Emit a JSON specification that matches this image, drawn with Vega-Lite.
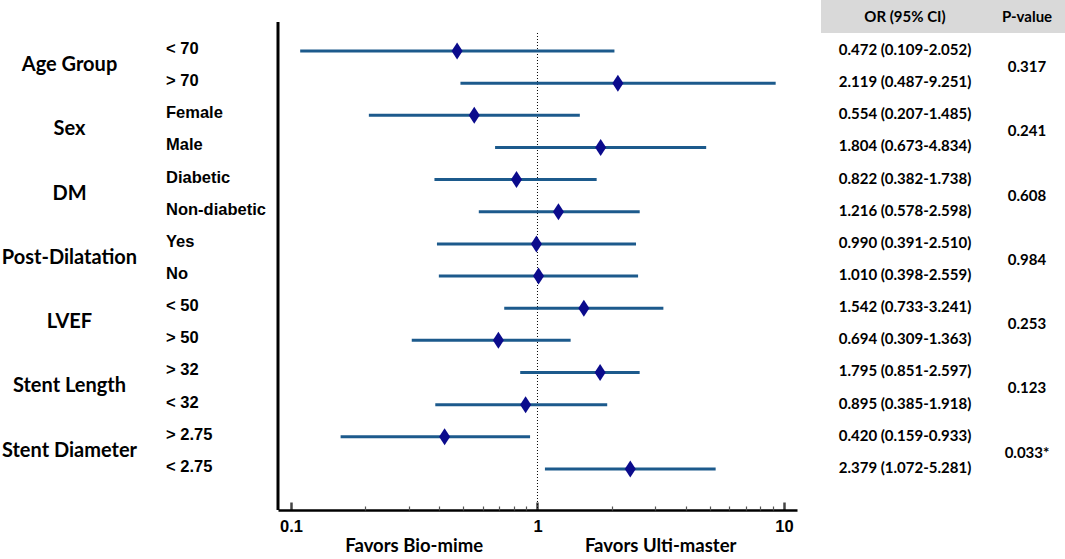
{
  "$schema": "https://vega.github.io/schema/vega-lite/v6.json",
  "padding": 0,
  "background": "white",
  "spacing": 0,
  "bounds": "flush",
  "config": {"view": {"stroke": null}, "text": {"color": "black"}},
  "datasets": {
    "rows": [
      {"row": 0, "group": "Age Group", "sub": "< 70", "or": 0.472, "lo": 0.109, "hi": 2.052, "ci": "0.472 (0.109-2.052)", "p": "0.317", "first": true},
      {"row": 1, "group": "Age Group", "sub": "> 70", "or": 2.119, "lo": 0.487, "hi": 9.251, "ci": "2.119 (0.487-9.251)", "p": "0.317", "first": false},
      {"row": 2, "group": "Sex", "sub": "Female", "or": 0.554, "lo": 0.207, "hi": 1.485, "ci": "0.554 (0.207-1.485)", "p": "0.241", "first": true},
      {"row": 3, "group": "Sex", "sub": "Male", "or": 1.804, "lo": 0.673, "hi": 4.834, "ci": "1.804 (0.673-4.834)", "p": "0.241", "first": false},
      {"row": 4, "group": "DM", "sub": "Diabetic", "or": 0.822, "lo": 0.382, "hi": 1.738, "ci": "0.822 (0.382-1.738)", "p": "0.608", "first": true},
      {"row": 5, "group": "DM", "sub": "Non-diabetic", "or": 1.216, "lo": 0.578, "hi": 2.598, "ci": "1.216 (0.578-2.598)", "p": "0.608", "first": false},
      {"row": 6, "group": "Post-Dilatation", "sub": "Yes", "or": 0.990, "lo": 0.391, "hi": 2.510, "ci": "0.990 (0.391-2.510)", "p": "0.984", "first": true},
      {"row": 7, "group": "Post-Dilatation", "sub": "No", "or": 1.010, "lo": 0.398, "hi": 2.559, "ci": "1.010 (0.398-2.559)", "p": "0.984", "first": false},
      {"row": 8, "group": "LVEF", "sub": "< 50", "or": 1.542, "lo": 0.733, "hi": 3.241, "ci": "1.542 (0.733-3.241)", "p": "0.253", "first": true},
      {"row": 9, "group": "LVEF", "sub": "> 50", "or": 0.694, "lo": 0.309, "hi": 1.363, "ci": "0.694 (0.309-1.363)", "p": "0.253", "first": false},
      {"row": 10, "group": "Stent Length", "sub": "> 32", "or": 1.795, "lo": 0.851, "hi": 2.597, "ci": "1.795 (0.851-2.597)", "p": "0.123", "first": true},
      {"row": 11, "group": "Stent Length", "sub": "< 32", "or": 0.895, "lo": 0.385, "hi": 1.918, "ci": "0.895 (0.385-1.918)", "p": "0.123", "first": false},
      {"row": 12, "group": "Stent Diameter", "sub": "> 2.75", "or": 0.420, "lo": 0.159, "hi": 0.933, "ci": "0.420 (0.159-0.933)", "p": "0.033*", "first": true},
      {"row": 13, "group": "Stent Diameter", "sub": "< 2.75", "or": 2.379, "lo": 1.072, "hi": 5.281, "ci": "2.379 (1.072-5.281)", "p": "0.033*", "first": false}
    ],
    "header": [{"col": "OR (95% CI)"}, {"col": "P-value"}]
  },
  "hconcat": [
    {
      "width": 278,
      "height": 510,
      "data": {"name": "rows"},
      "layer": [
        {
          "transform": [{"filter": "datum.first"}],
          "mark": {"type": "text", "font": "Lato", "fontWeight": "bold", "fontSize": 20, "dy": 14, "baseline": "middle", "align": "center"},
          "encoding": {
            "x": {"datum": "Group", "type": "nominal", "scale": {"type": "band", "domain": ["Group", "Subgroup"], "paddingInner": 0, "paddingOuter": 0}, "axis": null},
            "y": {"field": "row", "type": "quantitative", "scale": {"domain": [-1.586, 14.277], "reverse": true, "nice": false, "zero": false}, "axis": null},
            "text": {"field": "group"}
          }
        },
        {
          "mark": {"type": "text", "font": "Liberation Sans", "fontWeight": "bold", "fontSize": 16.5, "dx": 27, "dy": -2, "align": "left", "baseline": "middle"},
          "encoding": {
            "x": {"datum": "Subgroup", "type": "nominal", "bandPosition": 0, "axis": null},
            "y": {"field": "row", "type": "quantitative", "axis": null},
            "text": {"field": "sub"}
          }
        }
      ]
    },
    {
      "width": 519,
      "height": 510,
      "data": {"name": "rows"},
      "resolve": {"axis": {"x": "independent"}},
      "layer": [
        {
          "data": {"values": [{}]},
          "mark": {"type": "rule", "color": "black", "strokeWidth": 1, "strokeDash": [1, 2]},
          "encoding": {
            "x": {"datum": 1, "type": "quantitative", "scale": {"type": "log", "domain": [0.0886, 11.29], "nice": false},
              "axis": {"orient": "bottom", "values": [0.1, 1, 10], "format": "~g", "title": null, "grid": false, "tickSize": -8, "tickWidth": 2.5, "tickColor": "#444444", "domain": true, "domainColor": "black", "domainWidth": 2.5, "labelFont": "Liberation Sans", "labelFontWeight": "bold", "labelFontSize": 16.5, "labelColor": "black", "labelPadding": 16, "labelFlush": false}},
            "y": {"datum": -0.56, "type": "quantitative", "scale": {"domain": [-1.586, 14.277], "reverse": true, "nice": false, "zero": false}, "axis": null},
            "y2": {"datum": 14.277}
          }
        },
        {
          "mark": {"type": "rule", "color": "#1c5a8c", "strokeWidth": 3},
          "encoding": {
            "x": {"field": "lo", "type": "quantitative", "axis": null},
            "x2": {"field": "hi"},
            "y": {"field": "row", "type": "quantitative", "axis": null}
          }
        },
        {
          "mark": {"type": "point", "shape": "M0,-1L0.65,0L0,1L-0.65,0Z", "filled": true, "size": 289, "color": "#0b0b8c", "opacity": 1},
          "encoding": {
            "x": {"field": "or", "type": "quantitative",
              "axis": {"orient": "bottom", "values": [0.2, 0.3, 0.4, 0.5, 0.6, 0.7, 0.8, 0.9, 2, 3, 4, 5, 6, 7, 8, 9], "labels": false, "domain": false, "grid": false, "title": null, "tickSize": -4, "tickWidth": 1.2, "tickColor": "#555555"}},
            "y": {"field": "row", "type": "quantitative", "axis": null}
          }
        },
        {
          "data": {"values": [{}]},
          "mark": {"type": "rule", "color": "black", "strokeWidth": 3},
          "encoding": {
            "x": {"datum": 0.0886, "type": "quantitative", "axis": null},
            "y": {"datum": -0.902, "type": "quantitative", "axis": null},
            "y2": {"datum": 14.277}
          }
        },
        {
          "data": {"values": [{}]},
          "mark": {"type": "text", "text": "Favors Bio-mime", "font": "Lato", "fontWeight": "bold", "fontSize": 18.5, "baseline": "middle", "align": "center"},
          "encoding": {
            "x": {"datum": 0.316, "type": "quantitative", "axis": null},
            "y": {"datum": 15.4, "type": "quantitative", "axis": null}
          }
        },
        {
          "data": {"values": [{}]},
          "mark": {"type": "text", "text": "Favors Ulti-master", "font": "Lato", "fontWeight": "bold", "fontSize": 18.5, "baseline": "middle", "align": "center"},
          "encoding": {
            "x": {"datum": 3.16, "type": "quantitative", "axis": null},
            "y": {"datum": 15.4, "type": "quantitative", "axis": null}
          }
        }
      ]
    },
    {
      "width": 268,
      "height": 510,
      "layer": [
        {
          "data": {"name": "header"},
          "mark": {"type": "rect", "color": "#d9d9d9"},
          "encoding": {
            "x": {"field": "col", "type": "nominal", "scale": {"type": "band", "domain": ["OR (95% CI)", "P-value"], "paddingInner": 0, "paddingOuter": 0.09836, "align": 1}, "axis": null},
            "y": {"datum": -1.586, "type": "quantitative", "scale": {"domain": [-1.586, 14.277], "reverse": true, "nice": false, "zero": false}, "axis": null},
            "y2": {"datum": -0.56}
          }
        },
        {
          "data": {"name": "header"},
          "mark": {"type": "text", "font": "Lato", "fontWeight": "bold", "fontSize": 15, "dx": 23, "baseline": "middle", "align": "center"},
          "encoding": {
            "x": {"field": "col", "type": "nominal", "axis": null},
            "y": {"datum": -1.07, "type": "quantitative", "axis": null},
            "text": {"field": "col"}
          }
        },
        {
          "data": {"name": "rows"},
          "mark": {"type": "text", "font": "Lato", "fontWeight": "bold", "fontSize": 15, "dx": 23, "dy": -1, "baseline": "middle", "align": "center"},
          "encoding": {
            "x": {"datum": "OR (95% CI)", "type": "nominal", "axis": null},
            "y": {"field": "row", "type": "quantitative", "axis": null},
            "text": {"field": "ci"}
          }
        },
        {
          "data": {"name": "rows"},
          "transform": [{"filter": "datum.first"}],
          "mark": {"type": "text", "font": "Lato", "fontWeight": "bold", "fontSize": 15, "dx": 23, "dy": 16, "baseline": "middle", "align": "center"},
          "encoding": {
            "x": {"datum": "P-value", "type": "nominal", "axis": null},
            "y": {"field": "row", "type": "quantitative", "axis": null},
            "text": {"field": "p"}
          }
        }
      ]
    }
  ]
}
